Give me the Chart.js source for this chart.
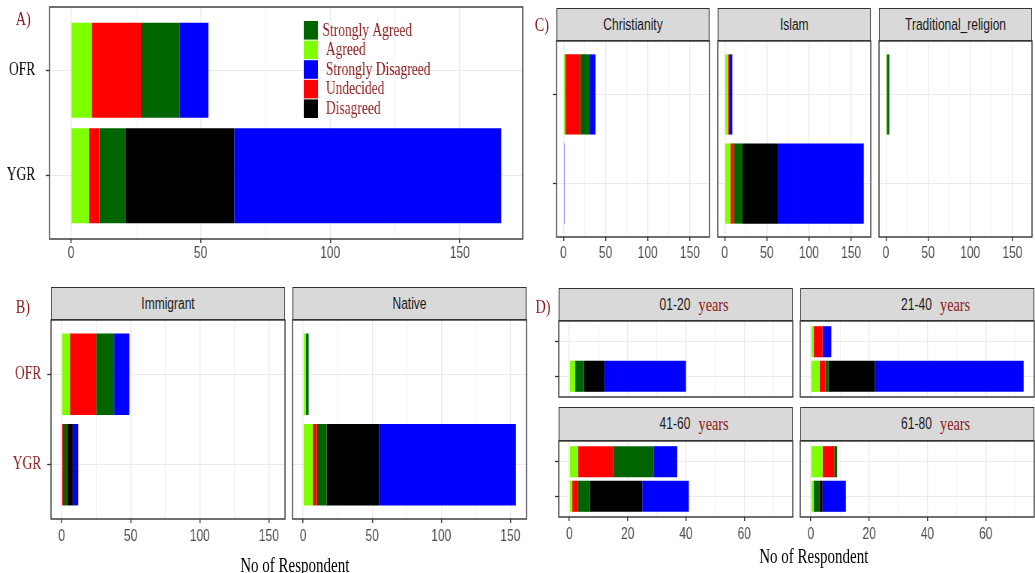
<!DOCTYPE html>
<html lang="en">
<head>
  <meta charset="UTF-8">
  <title>Responses of OFR and YGR respondents</title>
  <style>
    body {
      margin: 0;
      background: #fff;
      overflow: hidden;
    }

    /* the figure is laid out 1380px wide and squeezed to 1035px, like the source image */
    #fig {
      position: absolute;
      left: 0;
      top: 0;
      width: 1380px;
      height: 573px;
      transform: scaleX(0.75);
      transform-origin: 0 0;
    }

    .strip {
      position: absolute;
      box-sizing: border-box;
      background: #D9D9D9;
      border: 1.3px solid #333333;
      display: flex;
      align-items: center;
      justify-content: center;
      font-family: "Liberation Sans", Arial, sans-serif;
      font-size: 16px;
      color: #1A1A1A;
      white-space: nowrap;
    }

    .yrs {
      font-family: "Liberation Serif", "Times New Roman", serif;
      font-size: 19px;
      color: #8B1A1A;
      margin-left: 11px;
    }

    .tag {
      position: absolute;
      font-family: "Liberation Serif", "Times New Roman", serif;
      font-size: 19px;
      line-height: 1;
      color: #8B1A1A;
    }

    .title {
      position: absolute;
      font-family: "Liberation Serif", "Times New Roman", serif;
      font-size: 20px;
      line-height: 1;
      color: #000;
      white-space: nowrap;
      transform: translate(-50%, -50%);
    }
  </style>
  <script src="https://cdn.jsdelivr.net/npm/chart.js"></script>
</head>
<body>
  <div id="fig">
    <div class="tag" style="left:21px; top:9px;">A)</div>
    <div class="tag" style="left:713px; top:15px;">C)</div>
    <div class="tag" style="left:21px; top:297px;">B)</div>
    <div class="tag" style="left:714px; top:297px;">D)</div>
    <div class="title" style="left:393px; top:565px;">No of Respondent</div>
    <div class="title" style="left:1085px; top:556px;">No of Respondent</div>
  </div>

  <script>
    // ---- data (rows are [OFR, YGR]) ----
    const categories = ['OFR', 'YGR'];
    const levels = ['Agreed', 'Undecided', 'Strongly Agreed', 'Disagreed', 'Strongly Disagreed'];
    const levelColors = ['#7FFF00', '#FF0000', '#006400', '#000000', '#0000FF'];
    const legendOrder = ['Strongly Agreed', 'Agreed', 'Strongly Disagreed', 'Undecided', 'Disagreed'];
    const countTicks = [0, 50, 100, 150];
    const ageTicks = [0, 20, 40, 60];

    // A) all respondents
    const overallAgreed = [8, 7];
    const overallUndecided = [19, 4];
    const overallStronglyAgreed = [15, 10];
    const overallDisagreed = [0, 42];
    const overallStronglyDisagreed = [11, 103];

    // C) by religion, one [OFR, YGR] pair per facet
    const religionFacets = ['Christianity', 'Islam', 'Traditional_religion'];
    const religionAgreed = [[2, 0], [4, 7], [1, 0]];
    const religionUndecided = [[18, 0], [1, 4], [0, 0]];
    const religionStronglyAgreed = [[11, 0], [1, 10], [3, 0]];
    const religionDisagreed = [[0, 0], [0, 42], [0, 0]];
    const religionStronglyDisagreed = [[7, 1], [3, 102], [0, 0]];

    // B) by origin
    const originFacets = ['Immigrant', 'Native'];
    const originAgreed = [[6, 0], [2, 7]];
    const originUndecided = [[19, 1], [0, 3]];
    const originStronglyAgreed = [[13, 3], [2, 7]];
    const originDisagreed = [[0, 4], [0, 38]];
    const originStronglyDisagreed = [[11, 4], [0, 99]];

    // D) by age group
    const ageFacets = ['01-20', '21-40', '41-60', '61-80'];
    const ageUnit = 'years';
    const ageAgreed = [[0, 2], [1, 3], [3, 1], [4, 1]];
    const ageUndecided = [[0, 0], [3, 2], [12, 2], [4, 0]];
    const ageStronglyAgreed = [[0, 3], [0, 1], [14, 4], [1, 2]];
    const ageDisagreed = [[0, 7], [0, 16], [0, 18], [0, 1]];
    const ageStronglyDisagreed = [[0, 28], [3, 51], [8, 16], [0, 8]];

    const overall = [overallAgreed, overallUndecided, overallStronglyAgreed, overallDisagreed, overallStronglyDisagreed];
    const religion = [religionAgreed, religionUndecided, religionStronglyAgreed, religionDisagreed, religionStronglyDisagreed];
    const origin = [originAgreed, originUndecided, originStronglyAgreed, originDisagreed, originStronglyDisagreed];
    const age = [ageAgreed, ageUndecided, ageStronglyAgreed, ageDisagreed, ageStronglyDisagreed];

    // ---- helpers ----
    const FONT_SANS = '"Liberation Sans", Arial, sans-serif';
    const FONT_SERIF = '"Liberation Serif", "Times New Roman", serif';
    const P = 2; // room so the panel border is not clipped
    const fig = document.getElementById('fig');

    function rowTotals(series) {
      return categories.map((_, i) => series.reduce((s, a) => s + a[i], 0));
    }
    function facetMax(levelArrays, facets) {
      return Math.max(...facets.map((_, f) => Math.max(...rowTotals(levelArrays.map(a => a[f])))));
    }
    // ggplot style 5% expansion
    const expand = m => ({ min: -0.05 * m, max: 1.05 * m });

    const panelBorder = {
      id: 'panelBorder',
      afterDraw(chart) {
        const { ctx, chartArea: a } = chart;
        ctx.save();
        ctx.strokeStyle = '#333333';
        ctx.lineWidth = 1.4;
        ctx.strokeRect(a.left, a.top, a.right - a.left, a.bottom - a.top);
        ctx.restore();
      }
    };

    // legend drawn inside panel A
    const legendBox = {
      id: 'legendBox',
      afterDraw(chart) {
        const { ctx } = chart;
        const ox = parseFloat(chart.canvas.style.left);
        const oy = parseFloat(chart.canvas.style.top);
        ctx.save();
        ctx.font = '18px ' + FONT_SERIF;
        ctx.textBaseline = 'middle';
        legendOrder.forEach((name, r) => {
          const k = levels.indexOf(name);
          const top = 21 + r * 19.6 - oy;
          ctx.fillStyle = levelColors[k];
          ctx.fillRect(405 - ox, top, 19, 18.6);
          ctx.fillStyle = '#8B1A1A';
          ctx.fillText((r === 0 ? '' : ' ') + name, 430 - ox, top + 9.8);
        });
        ctx.restore();
      }
    };

    function addStrip(left, top, width, height, label, unit) {
      const d = document.createElement('div');
      d.className = 'strip';
      d.style.left = left + 'px';
      d.style.top = top + 'px';
      d.style.width = width + 'px';
      d.style.height = height + 'px';
      d.append(label);
      if (unit) {
        d.style.paddingLeft = '49px';
        const s = document.createElement('span');
        s.className = 'yrs';
        s.textContent = unit;
        d.append(s);
      }
      fig.appendChild(d);
    }

    function makePanel(o) {
      const cw = P + o.yW + o.w + P;
      const ch = P + o.h + o.xH + P;
      const cv = document.createElement('canvas');
      cv.width = cw;
      cv.height = ch;
      cv.style.position = 'absolute';
      cv.style.left = (o.left - o.yW - P) + 'px';
      cv.style.top = (o.top - P) + 'px';
      cv.style.width = cw + 'px';
      cv.style.height = ch + 'px';
      fig.appendChild(cv);

      const isMajor = v => o.major.includes(v);

      return new Chart(cv, {
        type: 'bar',
        data: {
          datasets: levels.map((name, k) => ({
            label: name,
            data: categories.map((c, i) => ({ x: o.series[k][i], y: categories.length - i })),
            backgroundColor: levelColors[k],
            borderWidth: 0,
            barPercentage: 0.9,
            categoryPercentage: 1
          }))
        },
        options: {
          responsive: false,
          animation: false,
          events: [],
          indexAxis: 'y',
          layout: { padding: P },
          plugins: {
            legend: { display: false },
            tooltip: { enabled: false }
          },
          scales: {
            x: {
              type: 'linear',
              stacked: true,
              min: o.range.min,
              max: o.range.max,
              border: { display: false },
              grid: {
                color: '#EBEBEB',
                lineWidth: c => (c.tick && isMajor(c.tick.value)) ? 1.4 : 0.7,
                drawTicks: o.xLabels,
                tickLength: 4,
                tickWidth: 1.4,
                tickColor: c => (c.tick && isMajor(c.tick.value)) ? '#333333' : 'rgba(0,0,0,0)'
              },
              ticks: {
                display: o.xLabels,
                stepSize: o.step,
                includeBounds: false,
                autoSkip: false,
                maxRotation: 0,
                padding: o.xPad,
                color: '#4D4D4D',
                font: { family: FONT_SANS, size: 16 },
                callback: v => isMajor(v) ? String(v) : ''
              },
              afterFit: s => { s.height = o.xH; s.paddingLeft = 0; s.paddingRight = 0; }
            },
            y: {
              type: 'linear',
              stacked: true,
              offset: false,
              min: 0.4,
              max: categories.length + 0.6,
              border: { display: false },
              grid: {
                offset: false,
                color: '#EBEBEB',
                lineWidth: 1,
                drawTicks: o.yTicks,
                tickLength: 5,
                tickWidth: 1.3,
                tickColor: '#333333'
              },
              ticks: {
                display: o.yLabels,
                stepSize: 1,
                includeBounds: false,
                autoSkip: false,
                padding: o.yPad || 0,
                color: o.yColor || '#000',
                font: { family: FONT_SERIF, size: 18 },
                callback: v => categories[categories.length - v] || ''
              },
              afterFit: s => { s.width = o.yW; s.paddingTop = 0; s.paddingBottom = 0; }
            }
          }
        },
        plugins: o.legend ? [panelBorder, legendBox] : [panelBorder]
      });
    }

    // ---- A) ----
    makePanel({
      left: 66, top: 7, w: 631, h: 232, yW: 66, xH: 30,
      series: overall, range: expand(Math.max(...rowTotals(overall))),
      step: 25, major: countTicks,
      yLabels: true, yColor: '#000000', yPad: 14, yTicks: true,
      xLabels: true, xPad: 1, legend: true
    });

    // ---- C) ----
    const religionLeft = [742, 957, 1172];
    const religionRange = expand(facetMax(religion, religionFacets));
    religionFacets.forEach((name, f) => {
      addStrip(religionLeft[f], 8, 204, 33, name);
      makePanel({
        left: religionLeft[f], top: 41, w: 204, h: 196, yW: f === 0 ? 8 : 0, xH: 30,
        series: religion.map(a => a[f]), range: religionRange,
        step: 25, major: countTicks,
        yLabels: false, yTicks: f === 0,
        xLabels: true, xPad: 3
      });
    });

    // ---- B) ----
    const originLeft = [68, 390];
    const originRange = expand(facetMax(origin, originFacets));
    originFacets.forEach((name, f) => {
      addStrip(originLeft[f], 287, 312, 33, name);
      makePanel({
        left: originLeft[f], top: 320, w: 312, h: 199, yW: f === 0 ? 68 : 0, xH: 30,
        series: origin.map(a => a[f]), range: originRange,
        step: 25, major: countTicks,
        yLabels: f === 0, yColor: '#8B1A1A', yPad: 8, yTicks: f === 0,
        xLabels: true, xPad: 4
      });
    });

    // ---- D) ----
    const ageLeft = [745, 1067];
    const ageStripTop = [288, 407];
    const ageStripH = [33, 34];
    const agePlotTop = [321, 441];
    const ageRange = expand(facetMax(age, ageFacets));
    ageFacets.forEach((name, f) => {
      const col = f % 2, row = Math.floor(f / 2);
      addStrip(ageLeft[col], ageStripTop[row], 312, ageStripH[row], name, ageUnit);
      makePanel({
        left: ageLeft[col], top: agePlotTop[row], w: 312, h: 76, yW: col === 0 ? 8 : 0, xH: row === 1 ? 30 : 0,
        series: age.map(a => a[f]), range: ageRange,
        step: 10, major: ageTicks,
        yLabels: false, yTicks: col === 0,
        xLabels: row === 1, xPad: 4
      });
    });
  </script>
</body>
</html>
